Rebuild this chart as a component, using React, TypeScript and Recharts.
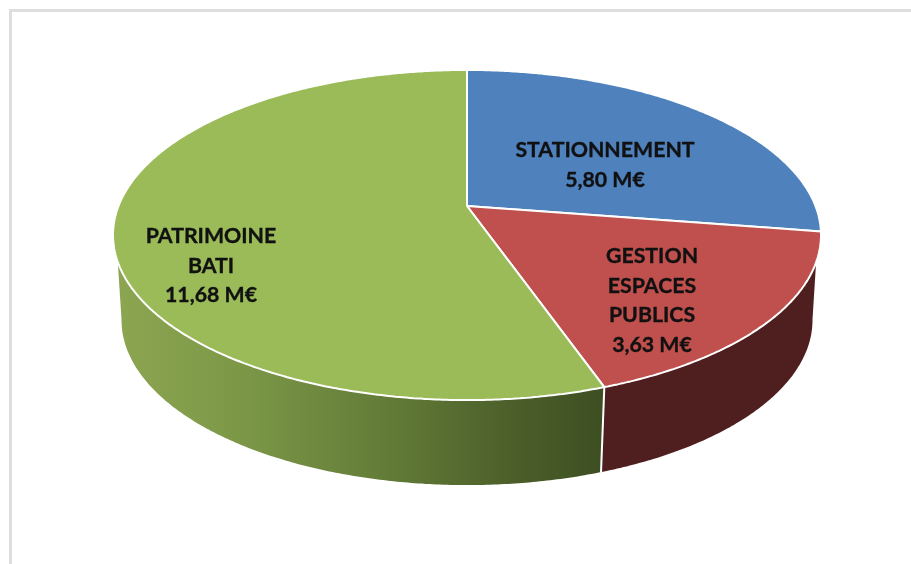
import { Pie, PieChart } from "recharts";

const categories = ["STATIONNEMENT", "GESTION ESPACES PUBLICS", "PATRIMOINE BATI"];
const values = [5.8, 3.63, 11.68];
const valueLabels = ["5,80 M€", "3,63 M€", "11,68 M€"];
const labelLines = [["STATIONNEMENT"], ["GESTION", "ESPACES", "PUBLICS"], ["PATRIMOINE", "BATI"]];
const topColors = ["#4f81bd", "#c0504d", "#9bbb59"];
const wallColors = ["#2a4669", "#4f1f1f", "url(#greenWall)"];

const data = categories.map((name, i) => ({ name, value: values[i] }));

// perspective of the tilted disc
const TILT = 0.1757;
const SQUASH = 0.459;
const DEPTH = 85;
const WALL_TOP_V = 0.33;
const WALL_BOTTOM_V = 0.17;
const BOTTOM_SCALE = 0.976;

// label anchors, relative to the pie centre
const labelOffsets = [
  { dx: 138, dy: -49 },
  { dx: 185, dy: 57 },
  { dx: -256, dy: 37 },
];

const project = (deg: number, cx: number, cy: number, r: number) => {
  const a = (deg * Math.PI) / 180;
  const u = Math.cos(a);
  const v = -Math.sin(a);
  const w = 1 - TILT * v;
  return { x: cx + (r * u) / w, y: cy + (r * SQUASH * v) / w, v };
};

const sweep = (start: number, end: number) => {
  const steps = Math.max(2, Math.ceil(Math.abs(end - start) / 0.5));
  const out: number[] = [];
  for (let i = 0; i <= steps; i++) out.push(start + ((end - start) * i) / steps);
  return out;
};

const toPath = (pts: { x: number; y: number }[]) =>
  pts.map((p, i) => `${i ? "L" : "M"}${p.x.toFixed(1)} ${p.y.toFixed(1)}`).join(" ");

function TopFace(props: any) {
  const { cx, cy, outerRadius, startAngle, endAngle, fill } = props;
  const rim = sweep(startAngle, endAngle).map((d) => project(d, cx, cy, outerRadius));
  return <path d={`M${cx} ${cy} ${toPath(rim).replace("M", "L")} Z`} fill={fill} stroke="#fff" strokeWidth={2} strokeLinejoin="round" />;
}

function WallFace(props: any) {
  const { cx, cy, outerRadius, startAngle, endAngle, index } = props;
  const angles = sweep(startAngle, endAngle);
  const upper = angles.map((d) => project(d, cx, cy, outerRadius)).filter((p) => p.v >= WALL_TOP_V);
  const lower = angles
    .map((d) => project(d, cx, cy, outerRadius))
    .filter((p) => p.v >= WALL_BOTTOM_V)
    .map((p) => ({ x: cx + (p.x - cx) * BOTTOM_SCALE, y: p.y + DEPTH }));
  if (!upper.length) return null;
  const seam = project(startAngle, cx, cy, outerRadius);
  return (
    <g>
      <path d={`${toPath(upper)} ${toPath([...lower].reverse()).replace("M", "L")} Z`} fill={wallColors[index]} />
      {seam.v >= WALL_TOP_V && (
        <line
          x1={seam.x}
          y1={seam.y}
          x2={cx + (seam.x - cx) * BOTTOM_SCALE}
          y2={seam.y + DEPTH}
          stroke="#fff"
          strokeWidth={2}
        />
      )}
    </g>
  );
}

function SliceLabel(props: any) {
  const { cx, cy, index } = props;
  const { dx, dy } = labelOffsets[index];
  return (
    <text
      x={cx + dx}
      y={cy + dy}
      textAnchor="middle"
      fontFamily="Lato"
      fontWeight={700}
      fontSize={21.3}
      fill="#111"
      stroke="#111"
      strokeWidth={0.35}
    >
      {[...labelLines[index], valueLabels[index]].map((line, i) => (
        <tspan key={line} x={cx + dx} dy={i ? 29.5 : 0}>
          {line}
        </tspan>
      ))}
    </text>
  );
}

export default function App() {
  return (
    <div style={{ position: "absolute", left: 0, top: 0, width: 911, height: 564, overflow: "hidden", background: "#fff" }}>
      <div style={{ position: "absolute", left: 0, top: 0, width: 911, height: 564, filter: "blur(0.5px)" }}>
        <div style={{ position: "absolute", left: 9, top: 9, right: -5, bottom: -5, borderLeft: "3px solid #dedede", borderTop: "3px solid #dedede" }} />
        <div style={{ position: "absolute", left: 0, top: 0 }}>
          <PieChart width={911} height={564} margin={{ top: 0, right: 0, bottom: 0, left: 0 }}>
            <defs>
              <linearGradient id="greenWall" gradientUnits="userSpaceOnUse" x1={117} y1={0} x2={604} y2={0}>
                <stop offset="0%" stopColor="#8ca551" />
                <stop offset="25%" stopColor="#7c9847" />
                <stop offset="57%" stopColor="#617a37" />
                <stop offset="81%" stopColor="#4c5f2a" />
                <stop offset="100%" stopColor="#3d4f22" />
              </linearGradient>
            </defs>
            <Pie
              data={data}
              dataKey="value"
              cx={467}
              cy={206}
              outerRadius={348.5}
              startAngle={90}
              endAngle={-270}
              stroke="none"
              shape={WallFace}
              isAnimationActive={false}
            />
            <Pie
              data={data.map((d, i) => ({ ...d, fill: topColors[i] }))}
              dataKey="value"
              cx={467}
              cy={206}
              outerRadius={348.5}
              startAngle={90}
              endAngle={-270}
              shape={TopFace}
              label={SliceLabel}
              labelLine={false}
              isAnimationActive={false}
            />
          </PieChart>
        </div>
      </div>
    </div>
  );
}
